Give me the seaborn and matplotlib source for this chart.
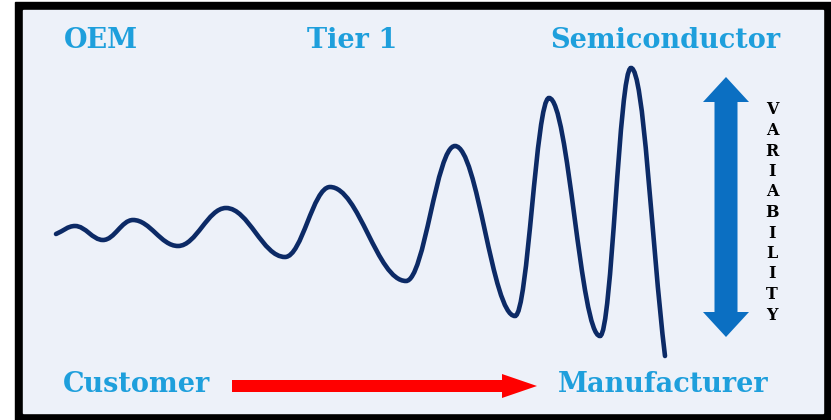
import matplotlib
matplotlib.use("Agg")
import matplotlib.pyplot as plt
from matplotlib.path import Path
from matplotlib.patches import PathPatch, Rectangle, FancyArrow
import seaborn as sns

# turning points of the demand wave (x right, y down, pixels)
wave_x = [56, 75, 103, 133, 178, 226, 285, 330, 406, 455, 515, 549, 600, 631, 665]
wave_y = [234, 226, 240, 220, 246, 208, 257, 187, 281, 146, 316, 98, 336, 68, 356]

top_labels = ["OEM", "Tier 1", "Semiconductor"]
bottom_labels = ["Customer", "Manufacturer"]
side_word = "VARIABILITY"

# layout (pixel space)
top_x = [101, 352, 665]
bottom_x = [136, 663]
label_color = "#1e9fdc"
wave_color = "#0c2a66"
bg_color = "#edf1f9"

sns.set_theme(style="white")
plt.rcParams["font.family"] = ["DejaVu Serif"]

fig = plt.figure(figsize=(8.31, 4.2), dpi=100)
ax = fig.add_axes([0, 0, 1, 1])
ax.set_xlim(0, 831)
ax.set_ylim(420, 0)
ax.axis("off")

# frame + panel
ax.add_patch(Rectangle((15, 2), 816, 418, color="black", zorder=0))
ax.add_patch(Rectangle((23, 10), 800, 403, color=bg_color, zorder=1))

# smooth wave through the turning points (flat tangents at the extrema)
k = 0.38
verts = [(wave_x[0], wave_y[0])]
codes = [Path.MOVETO]
n = len(wave_x)
for i in range(n - 1):
    x0, y0, x1, y1 = wave_x[i], wave_y[i], wave_x[i + 1], wave_y[i + 1]
    dx = x1 - x0
    c1 = (x0 + k * dx, y0)
    c2 = (x1 - k * dx, y1)
    if i == 0:
        c1 = (x0 + k * dx, y0 + k * (y1 - y0))
    if i == n - 2:
        c2 = (x1 - 0.12 * (y1 - y0) * 0.4, y1 - 0.4 * (y1 - y0))
    verts += [c1, c2, (x1, y1)]
    codes += [Path.CURVE4] * 3
ax.add_patch(PathPatch(Path(verts, codes), fill=False, lw=3.3,
                       edgecolor=wave_color, capstyle="round", zorder=3))

# labels
for lab, x in zip(top_labels, top_x):
    ax.text(x, 41, lab, ha="center", va="center", fontsize=19.5,
            fontweight="bold", color=label_color, zorder=4)
for lab, x in zip(bottom_labels, bottom_x):
    ax.text(x, 385, lab, ha="center", va="center", fontsize=19.5,
            fontweight="bold", color=label_color, zorder=4)

# red arrow customer -> manufacturer
ax.add_patch(FancyArrow(232, 386, 305, 0, width=12, head_width=24,
                        head_length=35, length_includes_head=True,
                        color="#ff0000", lw=0, zorder=4))

# blue double arrow
mid = 207
for dy in (-130, 130):
    ax.add_patch(FancyArrow(726, mid, 0, dy, width=23, head_width=46,
                            head_length=25, length_includes_head=True,
                            color="#0b6fc2", lw=0, zorder=4))

# stacked letters
for i, ch in enumerate(side_word):
    ax.text(772, 110 + i * 20.5, ch, ha="center", va="center", fontsize=11.5,
            fontweight="bold", color="black", zorder=4)

fig.savefig("out.png", dpi=100)
